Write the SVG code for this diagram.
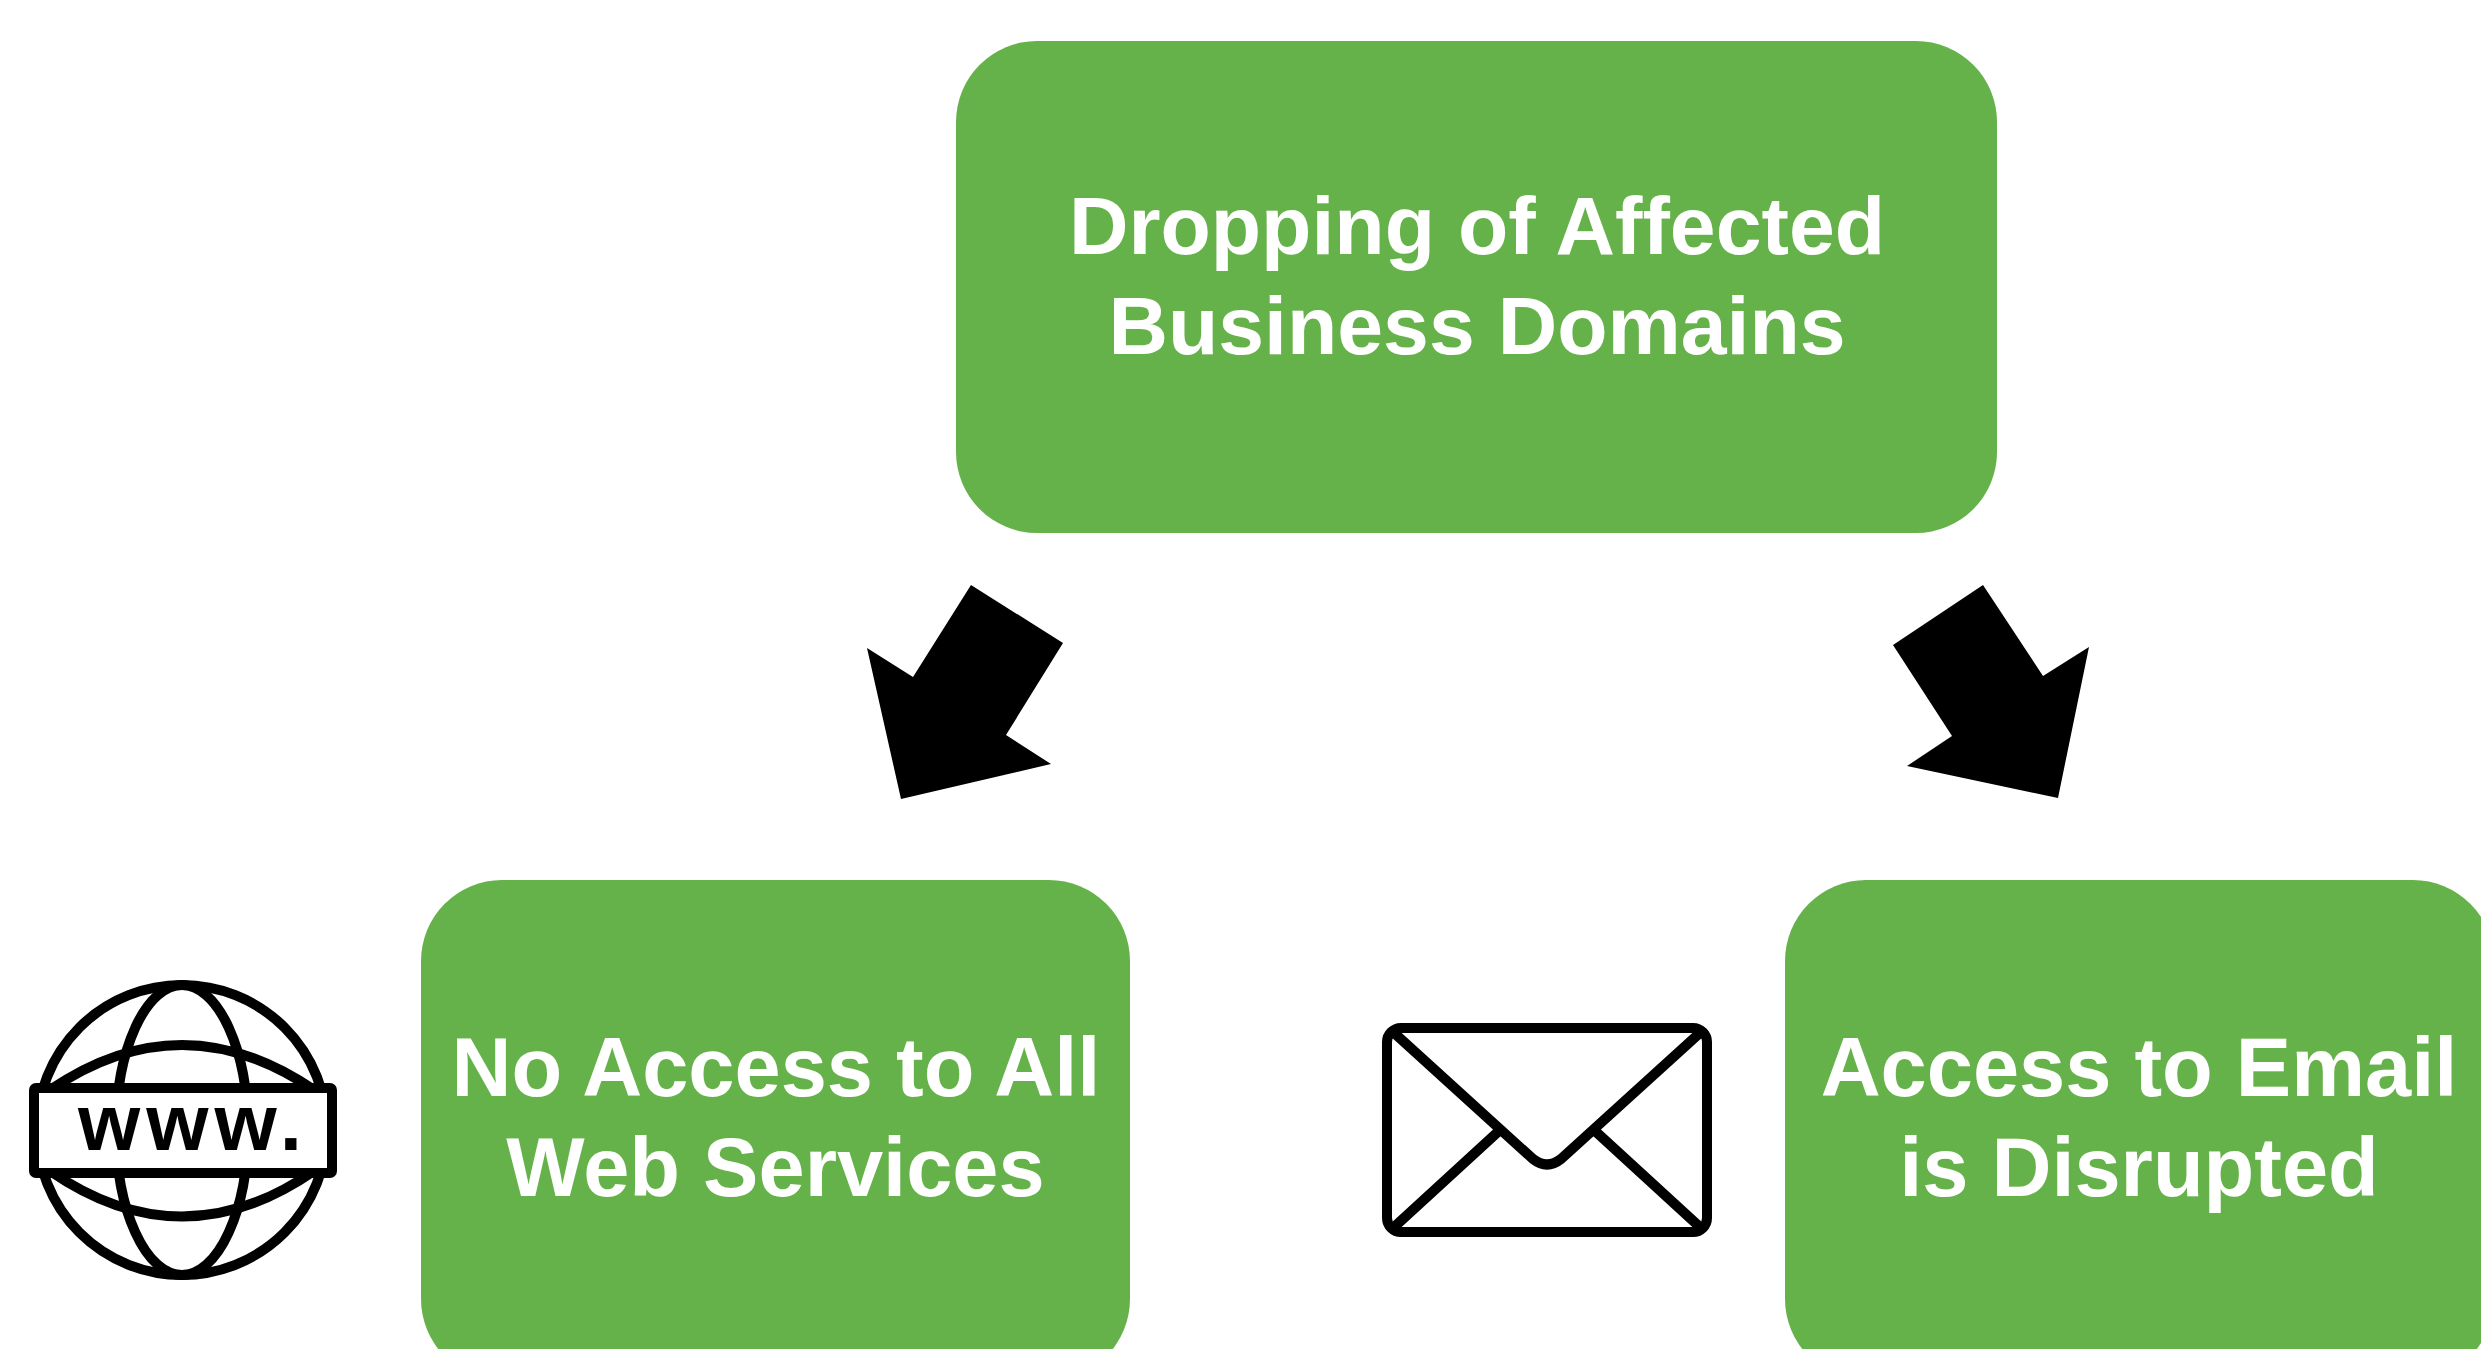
<svg xmlns="http://www.w3.org/2000/svg" width="2481" height="1349" viewBox="0 0 2481 1349">
<style>
.box{fill:#66B24A}
.lbl{font-family:"Liberation Sans",Arial,sans-serif;font-weight:700;font-size:83px;fill:#fff;text-anchor:middle}
.arrow{fill:#000}
.line{fill:none;stroke:#000;stroke-width:10;stroke-linejoin:round}
</style>
<rect width="2481" height="1349" fill="#fff"/>
<g id="node-top"><rect class="box" x="956" y="41" width="1041" height="492" rx="81"/>
<text class="lbl" style="font-size:82.4px" x="1477" y="253.5">Dropping of Affected</text><text class="lbl" style="font-size:82.4px" x="1477" y="353.5">Business Domains</text></g>
<g id="node-web"><rect class="box" x="421" y="880" width="709" height="500" rx="81"/>
<text class="lbl" x="776" y="1096">No Access to All</text><text class="lbl" x="775.5" y="1196">Web Services</text></g>
<g id="node-email"><rect class="box" x="1785" y="880" width="709" height="500" rx="81"/>
<text class="lbl" x="2139" y="1096">Access to Email</text><text class="lbl" x="2139" y="1196">is Disrupted</text></g>
<g id="connectors">
<polygon class="arrow" points="971,585 1063,643 1006,735 1051,764 901,799 867,648 913,677"/>
<polygon class="arrow" points="1983,585 2043,676 2089,647 2058,798 1907,766 1952,736 1893,645"/>
</g>
<g id="icon-web">
<circle class="line" cx="182" cy="1130" r="145"/>
<ellipse class="line" cx="182" cy="1130" rx="66" ry="145"/>
<path class="line" d="M50 1090Q182 1000 314 1090M50 1171Q182 1262 314 1171"/>
<rect class="line" x="34" y="1088" width="298" height="85" rx="2" style="fill:#fff"/>
<text x="78" y="1150" font-family="'Liberation Sans',Arial,sans-serif" font-weight="700" font-size="80" letter-spacing="6" fill="#000">www.</text>
</g>
<g id="icon-email">
<rect class="line" x="1387" y="1028" width="320" height="204" rx="14"/>
<path class="line" d="M1392 1031L1533 1159Q1547 1170 1561 1159L1702 1031M1500 1130L1392 1229M1594 1130L1702 1229"/>
</g>
</svg>
